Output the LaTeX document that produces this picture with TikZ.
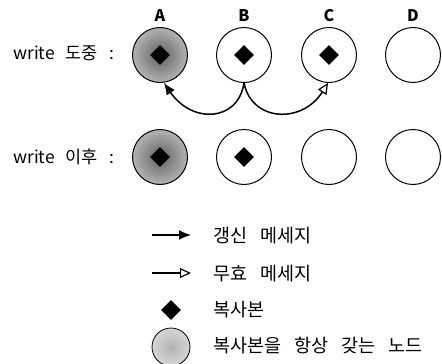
\documentclass[tikz,border=0pt]{standalone}
\usepackage{fontspec}
\setmainfont{Noto Sans CJK KR}
\usetikzlibrary{arrows.meta,shapes.geometric}
\newcommand\rowspace{\spaceskip=11pt\relax}
\newcommand\legspace{\spaceskip=13pt\relax}
\begin{document}
\begin{tikzpicture}[x=1pt,y=-1pt,
  nd/.style={circle,draw,line width=1pt,minimum size=55pt,inner sep=0pt},
  gnd/.style={nd,inner color=black!62,outer color=black!30},
  dia/.style={diamond,fill=black,minimum width=20pt,minimum height=20pt,inner sep=0pt},
  rowlbl/.style={inner sep=0pt,anchor=west,font=\fontsize{17.5}{20}\selectfont\rowspace},
  lbl/.style={inner sep=0pt,anchor=west,font=\fontsize{18.5}{21}\selectfont\legspace},
  hdr/.style={inner sep=0pt,font=\fontsize{16}{18}\selectfont\bfseries},
  upd/.style={line width=1.5pt,-{Latex[length=12pt,width=10pt]}},
  inv/.style={line width=1.5pt,-{Triangle[open,length=11pt,width=10pt,line width=1.2pt]}}]
\useasboundingbox (0,0) rectangle (442,364);
% header labels
\node[hdr] (hA) at (160,16) {A};
\node[hdr] (hB) at (244,16) {B};
\node[hdr] (hC) at (329,16) {C};
\node[hdr] (hD) at (413,16) {D};
% row 1
\node[rowlbl] (r1) at (13,53) {write 도중 :};
\node[gnd] (A1) at (160,55) {};
\node[nd] (B1) at (244,55) {};
\node[nd] (C1) at (329,55) {};
\node[nd] (D1) at (413,55) {};
\node[dia] (dA1) at (A1) {};
\node[dia] (dB1) at (B1) {};
\node[dia] (dC1) at (C1) {};
% arrows
\draw[upd] (B1.south) .. controls (238,122) and (192,124) .. (A1.-82);
\draw[inv] (B1.south) .. controls (252,122) and (302,124) .. (C1.-92);
% row 2
\node[rowlbl] (r2) at (13,157) {write 이후 :};
\node[gnd] (A2) at (160,157) {};
\node[nd] (B2) at (244,157) {};
\node[nd] (C2) at (329,157) {};
\node[nd] (D2) at (413,157) {};
\node[dia] (dA2) at (A2) {};
\node[dia] (dB2) at (B2) {};
% legend
\coordinate (u1) at (152,235);
\coordinate (u2) at (191,235);
\draw[upd] (u1) -- (u2);
\node[lbl] (t1) at (213,236) {갱신 메세지};
\coordinate (v1) at (152,273);
\coordinate (v2) at (191,273);
\draw[inv] (v1) -- (v2);
\node[lbl] (t2) at (213,274) {무효 메세지};
\node[dia] (ld) at (171,310) {};
\node[lbl] (t3) at (213,310) {복사본};
\node[circle,draw,line width=0.8pt,minimum size=38pt,inner sep=0pt,inner color=black!30,outer color=black!16] (lc) at (171,347) {};
\node[lbl] (t4) at (213,346) {복사본을 항상 갖는 노드};
\end{tikzpicture}
\end{document}
